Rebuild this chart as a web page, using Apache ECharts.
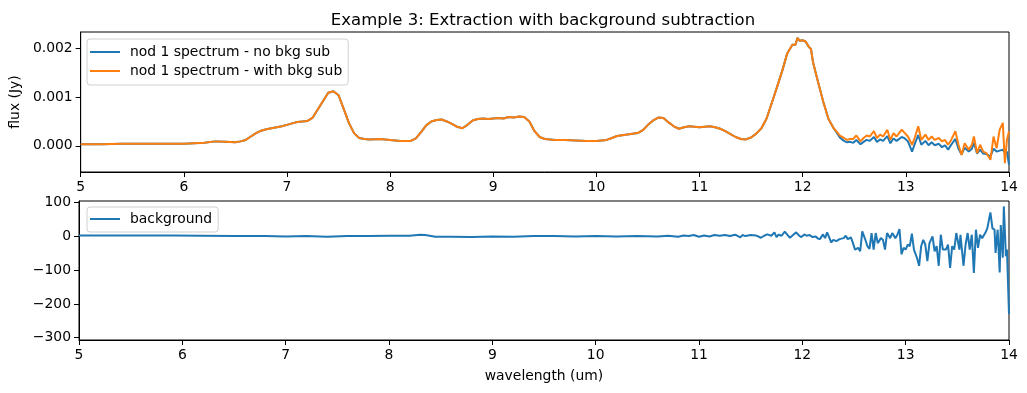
<!DOCTYPE html>
<html><head><meta charset="utf-8">
<script src="https://cdn.jsdelivr.net/npm/echarts@6/dist/echarts.min.js"></script>
<style>html,body{margin:0;padding:0;background:#fff}#c{width:1027px;height:393px}</style>
</head><body><div id="c"></div>
<script>
// ---- data ----
const specWave = [5.0,5.2,5.4,5.6,5.8,6.0,6.1,6.2,6.3,6.4,6.5,6.55,6.6,6.65,6.7,6.75,6.8,6.85,6.9,6.95,7.0,7.05,7.1,7.15,7.2,7.25,7.3,7.35,7.4,7.45,7.5,7.55,7.6,7.65,7.7,7.75,7.8,7.9,8.0,8.1,8.2,8.25,8.3,8.35,8.4,8.45,8.5,8.55,8.6,8.65,8.7,8.75,8.8,8.85,8.9,8.95,9.0,9.05,9.1,9.15,9.2,9.25,9.3,9.35,9.4,9.45,9.5,9.6,9.7,9.8,9.9,10.0,10.1,10.15,10.2,10.3,10.4,10.45,10.5,10.55,10.6,10.65,10.7,10.75,10.8,10.85,10.9,10.95,11.0,11.05,11.1,11.15,11.2,11.25,11.3,11.35,11.4,11.45,11.5,11.55,11.6,11.65,11.7,11.75,11.8,11.85,11.9,11.93,11.95,11.97,12.0,12.03,12.06,12.08,12.1,12.15,12.2,12.25,12.3,
12.33,12.36,12.40,12.43,12.46,12.49,12.52,12.56,12.59,12.62,12.65,12.69,12.72,12.75,12.78,12.82,12.85,12.88,12.91,12.96,12.99,13.02,13.06,13.09,13.12,13.15,13.19,13.22,13.25,13.28,13.32,13.35,13.38,13.41,13.44,13.48,13.51,13.54,13.57,13.61,13.64,13.66,13.69,13.72,13.75,13.78,13.82,13.85,13.88,13.91,13.94,13.96,13.98,14.0];
const fluxNoSub = [0.00003,0.00003,0.00004,0.00004,0.00004,0.00004,0.00005,0.00006,0.00009,0.00008,0.00007,0.00009,0.00012,0.00019,0.00026,0.00031,0.00034,0.00036,0.00038,0.0004,0.00043,0.00046,0.00049,0.0005,0.00051,0.00058,0.00075,0.00092,0.00109,0.00112,0.00104,0.00076,0.00047,0.00026,0.00016,0.00014,0.00013,0.00014,0.00012,0.0001,0.0001,0.00015,0.00028,0.00042,0.0005,0.00053,0.00054,0.0005,0.00045,0.00039,0.00036,0.00043,0.00052,0.00055,0.00056,0.00055,0.00056,0.00057,0.00056,0.00059,0.00058,0.0006,0.00059,0.0005,0.0003,0.00018,0.00014,0.00012,0.00012,0.00011,0.0001,0.0001,0.00012,0.00016,0.0002,0.00023,0.00026,0.00032,0.00043,0.00052,0.00058,0.00057,0.00048,0.0004,0.00035,0.00038,0.0004,0.00039,0.00038,0.00039,0.0004,0.00038,0.00035,0.0003,0.00024,0.00018,0.00014,0.00013,0.00017,0.00025,0.00036,0.00056,0.00088,0.0012,0.00153,0.0019,0.00208,0.00208,0.00222,0.00216,0.00217,0.00214,0.00203,0.00199,0.00172,0.0013,0.0009,0.00055,0.00036,
0.00027,0.00017,0.0001,0.00007,0.00008,0.00006,0.00012,0.00003,0.00008,0.00012,0.0001,0.00018,0.00008,0.00013,0.0001,0.0002,0.00005,0.00015,0.0001,0.00018,0.00015,0.00009,-0.00012,0.00006,0.00022,0.00002,0.0001,0.00001,0.00007,0.00001,0.00004,-0.00003,0.00001,-0.00008,0.00002,0.00014,-0.00006,-0.00018,-0.00004,-0.00012,-0.00006,0.00006,-0.00016,-0.00008,-0.00016,-0.00017,-0.00022,-0.00006,-0.00012,-0.0001,-0.00008,-0.00015,-0.00012,-0.00039];
const fluxWithSub = [0.00003,0.00003,0.00004,0.00004,0.00004,0.00004,0.00005,0.00006,0.00009,0.00008,0.00007,0.00009,0.00012,0.00019,0.00026,0.00031,0.00034,0.00036,0.00038,0.0004,0.00043,0.00046,0.00049,0.0005,0.00051,0.00058,0.00075,0.00092,0.00109,0.00112,0.00104,0.00076,0.00047,0.00026,0.00016,0.00014,0.00013,0.00014,0.00012,0.0001,0.0001,0.00015,0.00028,0.00042,0.0005,0.00053,0.00054,0.0005,0.00045,0.00039,0.00036,0.00043,0.00052,0.00055,0.00056,0.00055,0.00056,0.00057,0.00056,0.00059,0.00058,0.0006,0.00059,0.0005,0.0003,0.00018,0.00014,0.00012,0.00012,0.00011,0.0001,0.0001,0.00012,0.00016,0.0002,0.00023,0.00026,0.00032,0.00043,0.00052,0.00058,0.00057,0.00048,0.0004,0.00035,0.00038,0.0004,0.00039,0.00038,0.00039,0.0004,0.00038,0.00035,0.0003,0.00024,0.00018,0.00014,0.00013,0.00017,0.00025,0.00036,0.00056,0.00088,0.0012,0.00153,0.0019,0.00208,0.00208,0.00222,0.00216,0.00217,0.00214,0.00203,0.00199,0.00172,0.0013,0.0009,0.00055,0.00036,
0.00029,0.00021,0.00016,0.00012,0.00014,0.00014,0.00021,0.00009,0.00016,0.00021,0.00019,0.0003,0.00016,0.00023,0.00019,0.00033,0.00012,0.00026,0.00019,0.00033,0.00026,0.00019,0.00002,0.00019,0.0004,0.00012,0.00023,0.00012,0.00019,0.00012,0.00016,0.00009,0.00012,0.00002,0.00012,0.0003,0.00002,-0.00019,0.00005,-0.00008,0.00002,0.00019,-0.00015,0.00002,-0.00012,-0.00015,-0.00029,0.00019,-0.00005,0.00033,0.00047,-0.00036,0.00012,0.0003];
const bkgWave = [5.0,5.3,5.6,5.9,6.2,6.5,6.8,7.0,7.2,7.4,7.6,7.8,8.0,8.2,8.3,8.35,8.45,8.6,8.8,9.0,9.2,9.4,9.6,9.8,10.0,10.2,10.4,10.6,10.7,10.8,10.85,10.9,10.95,11.0,11.05,11.1,11.15,11.2,11.25,11.3,11.35,11.4,11.42,11.45,11.5,11.55,11.6,11.63,11.66,11.7,11.73,11.75,11.77,11.8,11.83,11.86,11.88,11.91,11.94,11.97,11.99,12.02,12.04,12.07,12.1,12.13,12.15,12.17,12.2,12.22,12.24,12.26,12.28,12.3,12.33,12.36,12.40,12.42,12.44,12.47,12.49,12.51,12.54,12.56,12.58,12.61,12.63,12.65,12.67,12.69,12.71,12.73,12.76,12.78,12.80,12.82,12.85,12.87,12.90,12.92,12.94,12.96,12.98,13.0,13.02,13.04,13.06,13.08,13.11,13.13,13.15,13.17,13.19,13.21,13.23,13.26,13.28,13.30,13.32,13.34,13.36,13.39,13.41,13.43,13.45,13.47,13.49,13.52,13.53,13.56,13.58,13.60,13.62,13.64,13.66,13.68,13.70,13.72,13.74,13.77,13.79,13.82,13.84,13.86,13.87,13.89,13.91,13.92,13.94,13.95,13.97,13.98,14.0];
const bkgFlux = [3,3,3,3,2,1,1,0,1,-1,1,1,2,2,5,4,-1,-1,-2,0,-1,1,1,0,1,0,1,0,2,-1,3,1,4,-1,3,0,4,2,4,1,5,-3,4,1,4,3,-4,2,6,2,12,-2,5,2,14,3,-4,4,12,2,-2,6,2,4,-2,0,-6,-8,6,-5,12,-3,-18,-10,-14,-8,-5,2,-8,-3,-20,-39,-34,-44,15,-10,-29,-37,10,-39,10,-20,-5,-10,-39,10,-5,10,-5,5,22,-53,-34,-39,-24,-29,8,-39,-64,-87,-29,-10,-24,-73,-20,0,-44,-29,-87,5,-39,-39,-24,-93,-29,-39,10,-39,5,-87,-24,10,-39,5,-108,20,-34,5,-5,10,24,71,24,20,-49,20,-107,34,-63,89,-59,-39,-230];
const xTicks = [5,6,7,8,9,10,11,12,13,14];
const fluxTicks = [0, 0.001, 0.002];
const bkgTicks = [-300,-200,-100,0,100];
const names = ['nod 1 spectrum - no bkg sub','nod 1 spectrum - with bkg sub','background'];

const zip = (xs, ys) => xs.map((x,i)=>[x, ys[i]]);
const FONT = 'DejaVu Sans';
const txt = {fontFamily: FONT, fontSize: 13.9, color: '#000'};
function xAx(gi, name){
  return {type:'value', gridIndex:gi, min:5, max:14, interval:1,
    axisLine:{show:true, onZero:false, lineStyle:{color:'#000', width:1}},
    axisTick:{show:true, length:5, lineStyle:{color:'#000'}, customValues:xTicks},
    axisLabel:Object.assign({margin:8, customValues:xTicks}, txt),
    splitLine:{show:false},
    name:name||'', nameLocation:'middle', nameGap:29, nameTextStyle:txt};
}
function yAx(gi, min, max, ticks, fmt, name){
  return {type:'value', gridIndex:gi, min:min, max:max,
    axisLine:{show:true, onZero:false, lineStyle:{color:'#000', width:1}},
    axisTick:{show:true, length:5, lineStyle:{color:'#000'}, customValues:ticks},
    axisLabel:Object.assign({margin:8, formatter:fmt, customValues:ticks}, txt),
    splitLine:{show:false},
    name:name||'', nameLocation:'middle', nameGap:51, nameTextStyle:txt};
}
const legendBase = {orient:'vertical', icon:'rect', itemWidth:30, itemHeight:2, itemGap:5,
  backgroundColor:'rgba(255,255,255,0.8)', borderColor:'#d0d0d0', borderWidth:1, borderRadius:3,
  textStyle:{fontFamily:FONT, fontSize:13.9, color:'#000', padding:[0,0,0,5]}};

const chart = echarts.init(document.getElementById('c'), null, {renderer:'canvas'});
chart.setOption({
  animation:false,
  backgroundColor:'#fff',
  title:{text:'Example 3: Extraction with background subtraction', left:538, textAlign:'center', top:7,
    textStyle:{fontFamily:FONT, fontSize:16.5, fontWeight:'normal', color:'#000'}},
  grid:[
    {left:79, top:32, width:930, height:140, show:true, borderColor:'#000', borderWidth:1, backgroundColor:'transparent'},
    {left:79, top:201, width:930, height:139, show:true, borderColor:'#000', borderWidth:1, backgroundColor:'transparent'}
  ],
  xAxis:[xAx(0), xAx(1,'wavelength (um)')],
  yAxis:[
    yAx(0, -0.00054, 0.00234, fluxTicks, v=>v.toFixed(3), 'flux (Jy)'),
    yAx(1, -307, 105, bkgTicks, v=>String(v).replace('-','\u2212'))
  ],
  legend:[
    Object.assign({}, legendBase, {left:87, top:39, padding:[6,6,7,3], data:[names[0], names[1]]}),
    Object.assign({}, legendBase, {left:87, top:207, padding:[5,6,6,3], data:[names[2]]})
  ],
  series:[
    {name:names[0], type:'line', xAxisIndex:0, yAxisIndex:0, symbol:'none', data:zip(specWave, fluxNoSub),
      lineStyle:{color:'#1f77b4', width:2}, itemStyle:{color:'#1f77b4'}},
    {name:names[1], type:'line', xAxisIndex:0, yAxisIndex:0, symbol:'none', data:zip(specWave, fluxWithSub),
      lineStyle:{color:'#ff7f0e', width:2}, itemStyle:{color:'#ff7f0e'}},
    {name:names[2], type:'line', xAxisIndex:1, yAxisIndex:1, symbol:'none', data:zip(bkgWave, bkgFlux),
      lineStyle:{color:'#1f77b4', width:2}, itemStyle:{color:'#1f77b4'}}
  ]
});
</script></body></html>
